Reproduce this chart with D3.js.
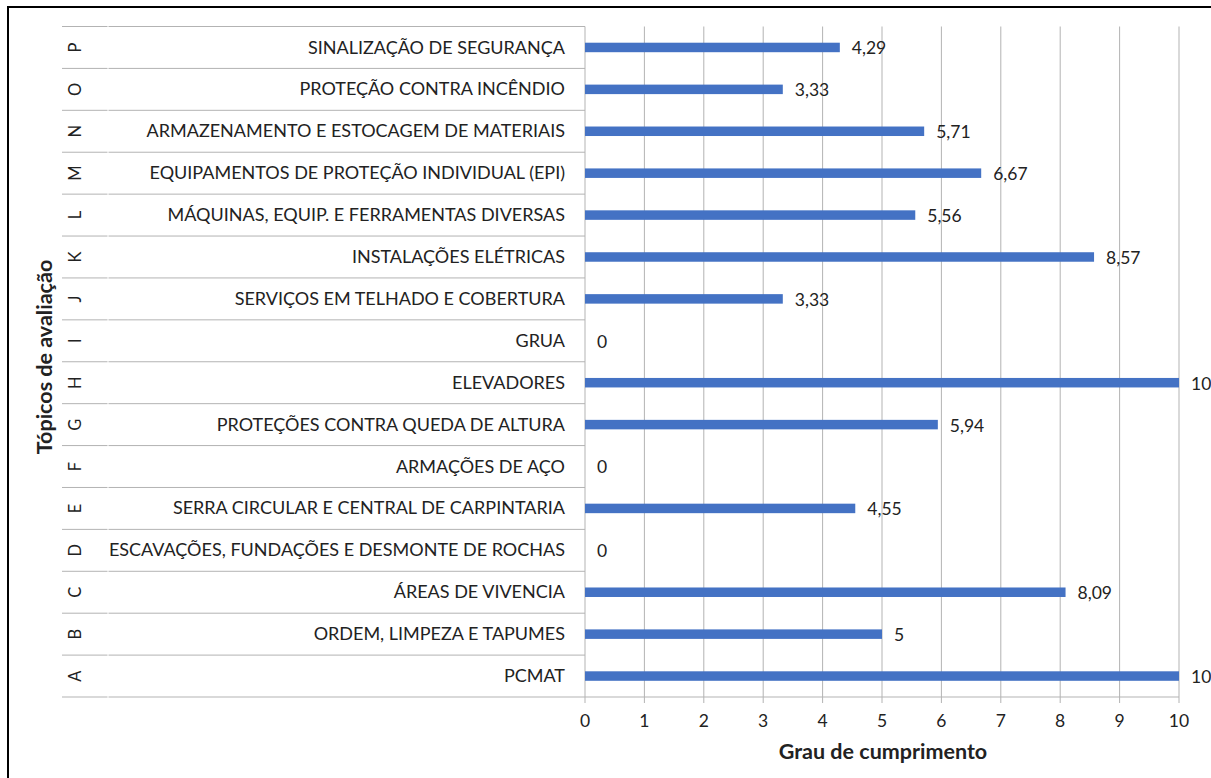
<!DOCTYPE html>
<html>
<head>
<meta charset="utf-8">
<script src="https://cdn.jsdelivr.net/npm/d3@7"></script>
<style>
  html, body { margin: 0; padding: 0; background: #fff; }
  svg { display: block; }
  text { font-family: Lato, "Open Sans", sans-serif; fill: #222; }
</style>
</head>
<body>
<div id="chart"></div>
<script>
// Letters and topic names, bottom (A) to top (P)
const letters = ["A", "B", "C", "D", "E", "F", "G", "H", "I", "J", "K", "L", "M", "N", "O", "P"];
const topics = [
  "PCMAT",
  "ORDEM, LIMPEZA E TAPUMES",
  "ÁREAS DE VIVENCIA",
  "ESCAVAÇÕES, FUNDAÇÕES E DESMONTE DE ROCHAS",
  "SERRA CIRCULAR E CENTRAL DE CARPINTARIA",
  "ARMAÇÕES DE AÇO",
  "PROTEÇÕES CONTRA QUEDA DE ALTURA",
  "ELEVADORES",
  "GRUA",
  "SERVIÇOS EM TELHADO E COBERTURA",
  "INSTALAÇÕES ELÉTRICAS",
  "MÁQUINAS, EQUIP. E FERRAMENTAS DIVERSAS",
  "EQUIPAMENTOS DE PROTEÇÃO INDIVIDUAL (EPI)",
  "ARMAZENAMENTO E ESTOCAGEM DE MATERIAIS",
  "PROTEÇÃO CONTRA INCÊNDIO",
  "SINALIZAÇÃO DE SEGURANÇA"
];
const scores = [10, 5, 8.09, 0, 4.55, 0, 5.94, 10, 0, 3.33, 8.57, 5.56, 6.67, 5.71, 3.33, 4.29];
const xTicks = [0, 1, 2, 3, 4, 5, 6, 7, 8, 9, 10];

const width = 1211, height = 778;
const plotLeft = 585, plotRight = 1179;
const tableLeft = 62, letterSep = 108;
const tableTop = 26.5, tableBottom = 697;

const data = letters.map((l, i) => ({ letter: l, topic: topics[i], value: scores[i] }));

const svg = d3.select("#chart").append("svg")
  .attr("width", width)
  .attr("height", height);

// chart frame (runs off the right and bottom of the picture)
svg.append("rect")
  .attr("x", 8).attr("y", 7)
  .attr("width", 1400).attr("height", 900)
  .attr("fill", "none")
  .attr("stroke", "#000")
  .attr("stroke-width", 2);

const x = d3.scaleLinear().domain([0, 10]).range([plotLeft, plotRight]);
const y = d3.scaleBand()
  .domain(letters.slice().reverse())
  .range([tableTop, tableBottom])
  .paddingInner(0)
  .paddingOuter(0);

const grid = "#b3b3b3";

// vertical gridlines with small ticks below
svg.append("g")
  .selectAll("line")
  .data(xTicks)
  .join("line")
  .attr("x1", d => x(d)).attr("x2", d => x(d))
  .attr("y1", tableTop).attr("y2", tableBottom + 6)
  .attr("stroke", grid)
  .attr("stroke-width", 1);

// row separators in the category table
const bounds = d3.range(letters.length + 1).map(i => tableTop + i * y.bandwidth());
const rows = svg.append("g");
rows.selectAll("line.a")
  .data(bounds)
  .join("line")
  .attr("class", "a")
  .attr("x1", tableLeft).attr("x2", letterSep - 0.5)
  .attr("y1", d => d).attr("y2", d => d)
  .attr("stroke", grid);
rows.selectAll("line.b")
  .data(bounds)
  .join("line")
  .attr("class", "b")
  .attr("x1", letterSep + 0.5).attr("x2", plotLeft)
  .attr("y1", d => d).attr("y2", d => d)
  .attr("stroke", grid);

// bottom axis line across the plot
svg.append("line")
  .attr("x1", plotLeft).attr("x2", plotRight)
  .attr("y1", tableBottom).attr("y2", tableBottom)
  .attr("stroke", grid);

// bars
const barH = 9.5;
svg.append("g")
  .selectAll("rect")
  .data(data)
  .join("rect")
  .attr("x", x(0))
  .attr("y", d => y(d.letter) + y.bandwidth() / 2 - barH / 2)
  .attr("width", d => x(d.value) - x(0))
  .attr("height", barH)
  .attr("fill", "#4472c4");

// value labels
svg.append("g")
  .selectAll("text")
  .data(data)
  .join("text")
  .attr("x", d => x(d.value) + 12)
  .attr("y", d => y(d.letter) + y.bandwidth() / 2 + 2.5)
  .attr("dominant-baseline", "middle")
  .style("font-size", "17.5px")
  .text(d => String(d.value).replace(".", ","));

// topic names
svg.append("g")
  .selectAll("text")
  .data(data)
  .join("text")
  .attr("x", 565)
  .attr("y", d => y(d.letter) + y.bandwidth() / 2 + 1.5)
  .attr("text-anchor", "end")
  .attr("dominant-baseline", "middle")
  .style("font-size", "18px")
  .text(d => d.topic);

// rotated letters
svg.append("g")
  .selectAll("text")
  .data(data)
  .join("text")
  .attr("transform", d => `translate(81, ${y(d.letter) + y.bandwidth() / 2}) rotate(-90)`)
  .attr("text-anchor", "middle")
  .style("font-size", "16.5px")
  .text(d => d.letter);

// x tick labels
svg.append("g")
  .selectAll("text")
  .data(xTicks)
  .join("text")
  .attr("x", d => x(d))
  .attr("y", 723)
  .attr("text-anchor", "middle")
  .attr("dominant-baseline", "middle")
  .style("font-size", "17.5px")
  .text(d => d);

// axis titles
svg.append("text")
  .attr("x", 883).attr("y", 753)
  .attr("text-anchor", "middle")
  .attr("dominant-baseline", "middle")
  .style("font-size", "21.5px")
  .style("font-weight", "bold")
  .text("Grau de cumprimento");

svg.append("text")
  .attr("transform", "translate(46, 357) rotate(-90)")
  .attr("text-anchor", "middle")
  .attr("dominant-baseline", "middle")
  .style("font-size", "21.5px")
  .style("font-weight", "bold")
  .text("Tópicos de avaliação");
</script>
</body>
</html>
